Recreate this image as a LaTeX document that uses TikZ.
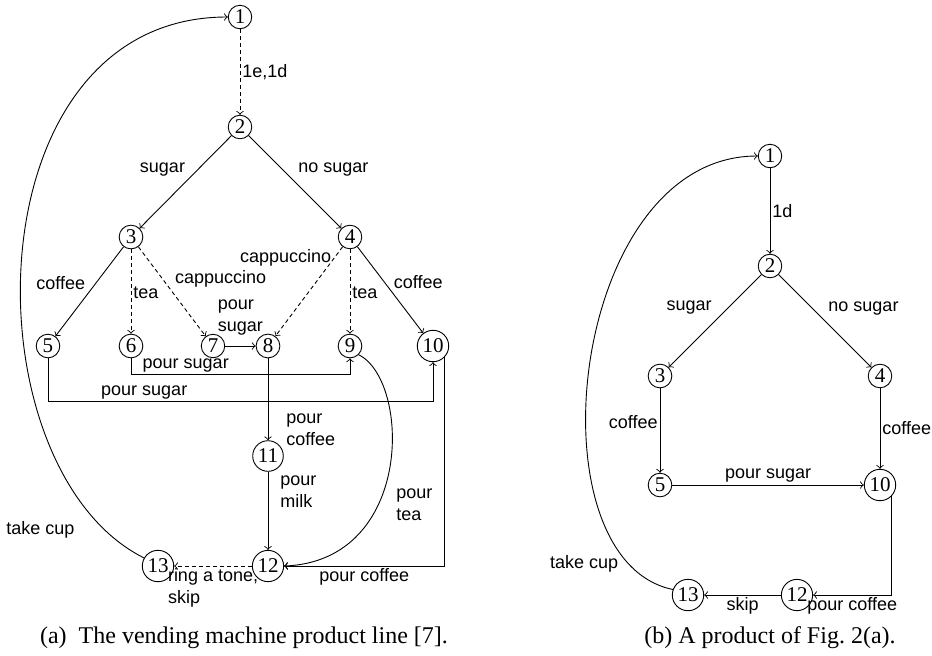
\documentclass[tikz,border=0pt]{standalone}
\usepackage{fontspec}
\setmainfont{Liberation Serif}
\newfontfamily\edgefont{Liberation Sans}

\begin{document}
\begin{tikzpicture}[
    x=0.5pt, y=-0.5pt, line width=0.45pt,
    state/.style={circle, draw, inner sep=1.1pt, font=\fontsize{10.5}{12}\selectfont},
    act/.style={font=\edgefont\fontsize{9}{11}\selectfont, inner sep=1pt, align=left},
    opt/.style={dash pattern=on 2pt off 1.5pt},
    caption/.style={font=\fontsize{12}{14}\selectfont, inner sep=0pt}
    ]
    \useasboundingbox (0,0) rectangle (932,655);

    % (a) the product line
    \node[state] (a1) at (240,17) {1};
    \node[state] (a2) at (240,127) {2};
    \node[state] (a3) at (131,237) {3};
    \node[state] (a4) at (350,237) {4};
    \node[state] (a5) at (48,346) {5};
    \node[state] (a6) at (131,346) {6};
    \node[state] (a7) at (213,346) {7};
    \node[state] (a8) at (268,346) {8};
    \node[state] (a9) at (350,346) {9};
    \node[state] (a10) at (433,346) {10};
    \node[state] (a11) at (268,456) {11};
    \node[state] (a12) at (268,566) {12};
    \node[state] (a13) at (158,566) {13};

    \draw [->, opt] (a1) -- node[act, right] {1e,1d} (a2);
    \draw [->] (a2) -- node[act, pos=0.37, left=5pt] {sugar} (a3);
    \draw [->] (a2) -- node[act, pos=0.37, right=6.5pt] {no sugar} (a4);
    \draw [->] (a3) -- node[act, pos=0.41, left=4pt] {coffee} (a5);
    \draw [->, opt] (a3) -- node[act, pos=0.52, right] {tea} (a6);
    \draw [->, opt] (a3) -- node[act, pos=0.36, right=5pt] {cappuccino} (a7);
    \draw [->, opt] (a4) -- node[act, pos=0.12, left=0.5pt] {cappuccino} (a8);
    \draw [->, opt] (a4) -- node[act, pos=0.52, right] {tea} (a9);
    \draw [->] (a4) -- node[act, pos=0.41, right=3.5pt] {coffee} (a10);
    \draw [->] (a7) -- node[act, above=4pt] {pour\\sugar} (a8);
    \draw [->] (a6.south) -- ++(0,16) -| node[act, pos=0.125, above] {pour sugar} (a9.south);
    \draw [->] (a5.south) -- ++(0,43) -| node[act, pos=0.125, above] {pour sugar} (a10.south);
    \draw [->] (a8) -- node[act, pos=0.87, right=8pt] {pour\\coffee} (a11);
    \draw [->] (a11) -- node[act, pos=0.26, right=5pt] {pour\\milk} (a12);
    \draw [->] (a9.south east) .. controls +(52,26) and +(130,-5) .. node[act, pos=0.63, right=8pt] {pour\\tea} (a12.east);
    \draw [->] (a10.south east) |- node[act, pos=0.75, below] {pour coffee} (a12.east);
    \draw [->, opt] (a12) -- node[act, below] {ring a tone,\\skip} (a13);
    \draw [->] (a13.150) .. controls +(-178,-89) and +(-259,0) .. node[act, pos=0.08, left=14pt] {take cup} (a1.west);

    % (b) one product
    \node[state] (b1) at (770,156) {1};
    \node[state] (b2) at (770,266) {2};
    \node[state] (b3) at (660,376) {3};
    \node[state] (b4) at (880,376) {4};
    \node[state] (b5) at (660,485) {5};
    \node[state] (b10) at (880,485) {10};
    \node[state] (b12) at (797,595) {12};
    \node[state] (b13) at (688,595) {13};

    \draw [->] (b1) -- node[act, right] {1d} (b2);
    \draw [->] (b2) -- node[act, pos=0.36, left=7pt] {sugar} (b3);
    \draw [->] (b2) -- node[act, pos=0.36, right=7pt] {no sugar} (b4);
    \draw [->] (b3) -- node[act, pos=0.4, left] {coffee} (b5);
    \draw [->] (b4) -- node[act, pos=0.5, right] {coffee} (b10);
    \draw [->] (b5) -- node[act, above] {pour sugar} (b10);
    \draw [->] (b10.south east) |- node[act, pos=0.75, below] {pour coffee} (b12.east);
    \draw [->] (b12) -- node[act, below] {skip} (b13);
    \draw [->] (b13.160) .. controls +(-145,-30) and +(-189,0) .. node[act, pos=0.12, left=4pt] {take cup} (b1.west);

    \node[caption] (capa) at (244,638) {(a)\enspace The vending machine product line [7].};
    \node[caption] (capb) at (770,638) {(b) A product of Fig.~2(a).};
\end{tikzpicture}
\end{document}
